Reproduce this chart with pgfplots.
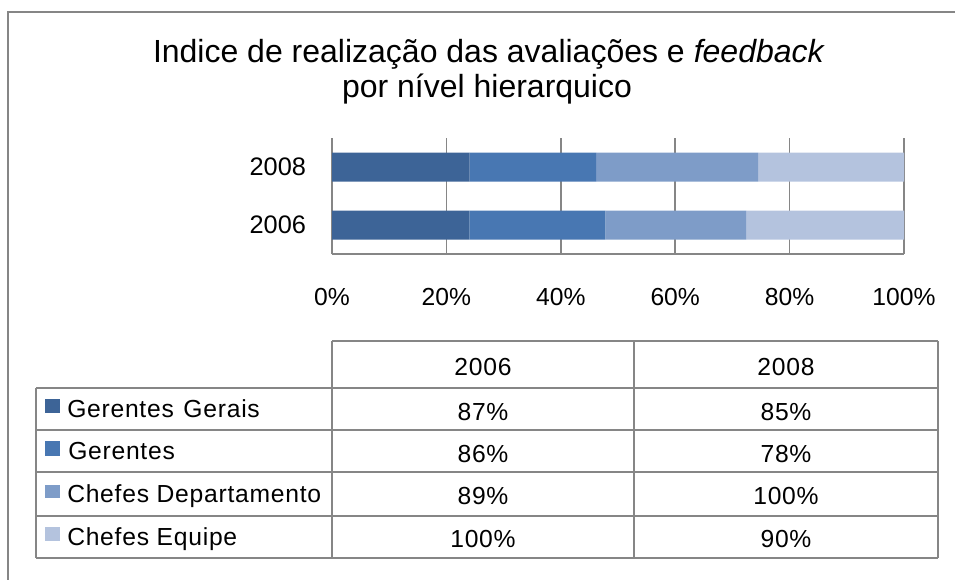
\documentclass[border=0pt]{standalone}
\usepackage{pgfplots}
\pgfplotsset{compat=1.18}
\usepackage{pgfplotstable}
\usepackage{fontspec}
\setmainfont{Liberation Sans}
\newfontfamily\tabfont[LetterSpace=3]{Liberation Sans}
\definecolor{cGG}{HTML}{3D6497}
\definecolor{cG}{HTML}{4877B2}
\definecolor{cCD}{HTML}{7E9CC8}
\definecolor{cCE}{HTML}{B4C3DE}
\definecolor{lgray}{HTML}{868686}

\pgfplotstableread{
yr GG G CD CE
0 87 86 89 100
1 85 78 100 90
}\datatable

\begin{document}
\begin{tikzpicture}
\useasboundingbox (0,0) rectangle (716.25pt,-434.25pt);
\begin{scope}[x=0.75pt,y=-0.75pt]
  % outer frame (left and top visible)
  \draw[lgray, line width=1.1pt] (8,590) -- (8,12) -- (965,12);
  % title
  \node[anchor=base, font=\fontsize{24}{28}\selectfont] at (489,62) {Indice de realização das avaliações e \textit{feedback}};
  \node[anchor=base, font=\fontsize{24}{28}\selectfont] at (487,97) {por nível hierarquico};
  % table lines
  \begin{scope}[lgray, line width=1.3pt]
    \draw (332,341) -- (938,341);
    \draw (36,388) -- (938,388);
    \draw (36,430) -- (938,430);
    \draw (36,472) -- (938,472);
    \draw (36,516) -- (938,516);
    \draw (36,558) -- (938,558);
    \draw (36,388) -- (36,558);
    \draw (332,341) -- (332,558);
    \draw (634,341) -- (634,558);
    \draw (938,341) -- (938,558);
  \end{scope}
  % legend keys
  \fill[cGG] (45,399) rectangle (60,413);
  \fill[cG] (45,441) rectangle (60,456);
  \fill[cCD] (45,485) rectangle (60,498);
  \fill[cCE] (45,527) rectangle (60,541);
  \begin{scope}[font=\tabfont\fontsize{18.5}{22}\selectfont]
    \node[anchor=base west, inner sep=0] at (67,417) {Gerentes\hspace{1.5pt} Gerais};
    \node[anchor=base west, inner sep=0] at (68,459) {Gerentes};
    \node[anchor=base west, inner sep=0] at (67,502) {Chefes Departamento};
    \node[anchor=base west, inner sep=0] at (67,545) {Chefes Equipe};
    \node[anchor=base, inner sep=0] at (483,375) {2006};
    \node[anchor=base, inner sep=0] at (786,375) {2008};
    \node[anchor=base, inner sep=0] at (483,420) {87\%};
    \node[anchor=base, inner sep=0] at (786,420) {85\%};
    \node[anchor=base, inner sep=0] at (483,462) {86\%};
    \node[anchor=base, inner sep=0] at (786,462) {78\%};
    \node[anchor=base, inner sep=0] at (483,504) {89\%};
    \node[anchor=base, inner sep=0] at (786,504) {100\%};
    \node[anchor=base, inner sep=0] at (483,547) {100\%};
    \node[anchor=base, inner sep=0] at (786,547) {90\%};
  \end{scope}
\end{scope}
\begin{axis}[
  at={(249pt,-190.5pt)}, anchor=south west,
  scale only axis, width=429pt, height=87pt,
  xbar stacked, bar width=0.5,
  xmin=0, xmax=100, ymin=-0.5, ymax=1.5,
  axis x line=bottom, axis y line=left,
  axis line style={-, lgray, line width=1.1pt},
  xmajorgrids, grid style={lgray, line width=1.1pt},
  xtick={0,20,40,60,80,100},
  xticklabels={0\%,20\%,40\%,60\%,80\%,100\%},
  ytick={0,1}, yticklabels={2006,2008},
  major tick length=0pt,
  tick style={draw=none},
  xticklabel style={font=\fontsize{18.5}{22}\selectfont, yshift=-22pt},
  yticklabel style={font=\fontsize{19}{22}\selectfont, xshift=-16pt},
  /pgf/number format/assume math mode=true,
]
\addplot[fill=cGG, draw=none] table[y=yr, x expr={100*\thisrow{GG}/(\thisrow{GG}+\thisrow{G}+\thisrow{CD}+\thisrow{CE})}] \datatable;
\addplot[fill=cG, draw=none] table[y=yr, x expr={100*\thisrow{G}/(\thisrow{GG}+\thisrow{G}+\thisrow{CD}+\thisrow{CE})}] \datatable;
\addplot[fill=cCD, draw=none] table[y=yr, x expr={100*\thisrow{CD}/(\thisrow{GG}+\thisrow{G}+\thisrow{CD}+\thisrow{CE})}] \datatable;
\addplot[fill=cCE, draw=none] table[y=yr, x expr={100*\thisrow{CE}/(\thisrow{GG}+\thisrow{G}+\thisrow{CD}+\thisrow{CE})}] \datatable;
\end{axis}
\end{tikzpicture}
\end{document}
